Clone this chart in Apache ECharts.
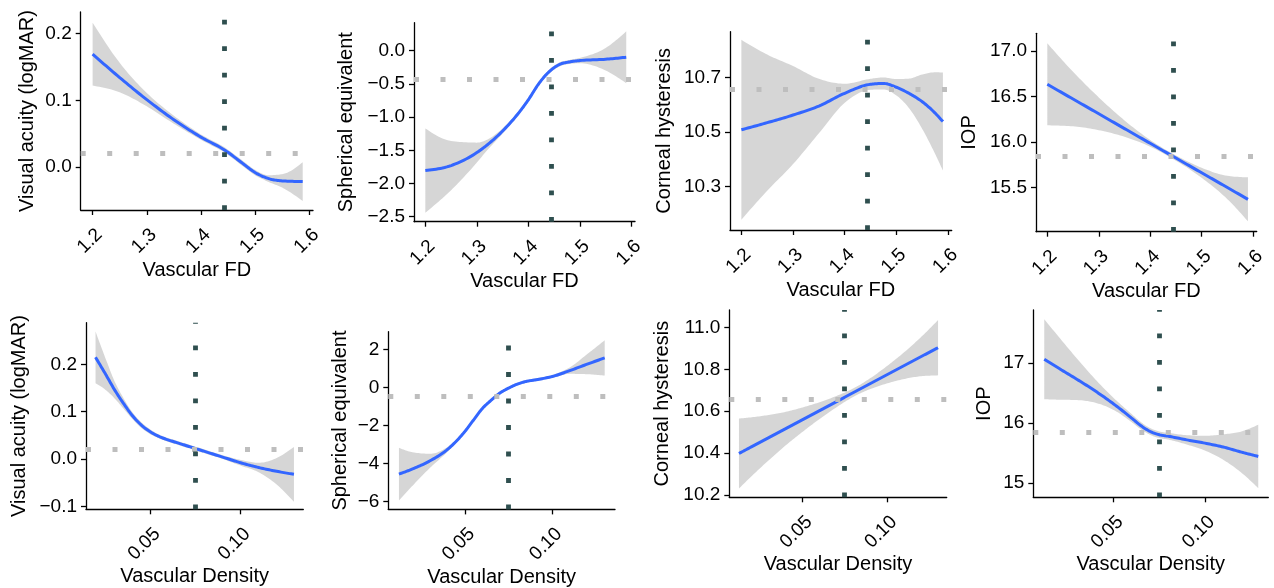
<!DOCTYPE html>
<html>
<head>
<meta charset="utf-8">
<script src="https://cdn.jsdelivr.net/npm/echarts@6/dist/echarts.min.js"></script>
<style>
  html, body { margin: 0; padding: 0; background: #fff; }
  #chart { width: 1274px; height: 588px; }
</style>
</head>
<body>
<div id="chart"></div>
<script>
// ---- Tick values ----
const fdTicks = [1.2, 1.3, 1.4, 1.5, 1.6];
const densityTicks = [0.05, 0.10];
const vaFdTicks = [0.0, 0.1, 0.2];
const seFdTicks = [-2.5, -2.0, -1.5, -1.0, -0.5, 0.0];
const chFdTicks = [10.3, 10.5, 10.7];
const iopFdTicks = [15.5, 16.0, 16.5, 17.0];
const vaDenTicks = [-0.1, 0.0, 0.1, 0.2];
const seDenTicks = [-6, -4, -2, 0, 2];
const chDenTicks = [10.2, 10.4, 10.6, 10.8, 11.0];
const iopDenTicks = [15, 16, 17];

// ---- Reference lines: vascular cut-offs and outcome means ----
const fdCut = 1.444;
const densityCut = 0.0748;
const meanVA = 0.021;
const meanSE = -0.43;
const meanCH = 10.657;
const meanIOP = 15.84;

// ---- Smoothed fits with 95% bands: Vascular FD ----
const vaFdX   = [1.2, 1.25, 1.3, 1.35, 1.4, 1.445, 1.475, 1.5, 1.525, 1.55, 1.588];
const vaFdFit = [0.169, 0.134, 0.101, 0.071, 0.045, 0.025, 0.007, -0.008, -0.017, -0.0205, -0.0215];
const vaFdLo  = [0.122, 0.112, 0.091, 0.065, 0.041, 0.021, 0.003, -0.012, -0.022, -0.0305, -0.0505];
const vaFdHi  = [0.216, 0.156, 0.111, 0.077, 0.049, 0.029, 0.011, -0.004, -0.012, -0.0105, 0.0075];

const seFdX   = [1.2, 1.25, 1.3, 1.32, 1.35, 1.385, 1.4, 1.42, 1.44, 1.46, 1.48, 1.5, 1.55, 1.59];
const seFdFit = [-1.806, -1.73, -1.535, -1.42, -1.21, -0.90, -0.74, -0.50, -0.32, -0.21, -0.17, -0.15, -0.13, -0.10];
const seFdLo  = [-2.441, -2.10, -1.685, -1.50, -1.25, -0.93, -0.77, -0.53, -0.35, -0.24, -0.20, -0.19, -0.30, -0.49];
const seFdHi  = [-1.171, -1.36, -1.385, -1.34, -1.17, -0.87, -0.71, -0.47, -0.29, -0.18, -0.14, -0.11, 0.04, 0.29];

const chFdX   = [1.2, 1.25, 1.3, 1.35, 1.4, 1.45, 1.475, 1.5, 1.525, 1.55, 1.575, 1.59];
const chFdFit = [10.509, 10.535, 10.563, 10.596, 10.643, 10.676, 10.679, 10.665, 10.642, 10.612, 10.570, 10.539];
const chFdLo  = [10.179, 10.285, 10.383, 10.496, 10.608, 10.656, 10.657, 10.635, 10.587, 10.512, 10.42, 10.359];
const chFdHi  = [10.839, 10.785, 10.743, 10.696, 10.678, 10.696, 10.701, 10.695, 10.697, 10.712, 10.72, 10.719];

const iopFdX   = [1.2, 1.25, 1.3, 1.35, 1.4, 1.45, 1.5, 1.55, 1.59];
const iopFdFit = [16.633, 16.471, 16.309, 16.146, 15.984, 15.822, 15.660, 15.498, 15.368];
const iopFdLo  = [16.182, 16.171, 16.129, 16.056, 15.947, 15.793, 15.605, 15.37, 15.126];
const iopFdHi  = [17.084, 16.771, 16.489, 16.236, 16.021, 15.851, 15.715, 15.626, 15.61];

// ---- Smoothed fits with 95% bands: Vascular Density ----
const vaDenX   = [0.0194, 0.025, 0.03, 0.035, 0.04, 0.045, 0.05, 0.055, 0.06, 0.065, 0.07, 0.075, 0.08, 0.09, 0.10, 0.11, 0.12, 0.1296];
const vaDenFit = [0.2148, 0.179, 0.146, 0.117, 0.091, 0.071, 0.057, 0.047, 0.040, 0.034, 0.028, 0.022, 0.016, 0.004, -0.008, -0.018, -0.026, -0.0324];
const vaDenLo  = [0.1603, 0.146, 0.128, 0.106, 0.084, 0.065, 0.052, 0.043, 0.036, 0.030, 0.024, 0.018, 0.012, 0.000, -0.014, -0.028, -0.054, -0.0904];
const vaDenHi  = [0.2693, 0.212, 0.164, 0.128, 0.098, 0.077, 0.062, 0.051, 0.044, 0.038, 0.032, 0.026, 0.020, 0.008, -0.002, -0.008, 0.002, 0.0256];

const seDenX   = [0.0122, 0.02, 0.03, 0.04, 0.045, 0.05, 0.055, 0.06, 0.065, 0.07, 0.075, 0.08, 0.085, 0.09, 0.10, 0.11, 0.12, 0.13];
const seDenFit = [-4.55, -4.28, -3.85, -3.25, -2.82, -2.30, -1.69, -1.09, -0.66, -0.28, -0.02, 0.19, 0.33, 0.41, 0.59, 0.90, 1.24, 1.57];
const seDenLo  = [-5.935, -5.16, -4.22, -3.38, -2.91, -2.38, -1.77, -1.17, -0.735, -0.35, -0.09, 0.12, 0.26, 0.34, 0.51, 0.73, 0.71, 0.64];
const seDenHi  = [-3.165, -3.40, -3.48, -3.12, -2.73, -2.22, -1.61, -1.01, -0.585, -0.21, 0.05, 0.26, 0.40, 0.48, 0.67, 1.07, 1.77, 2.50];

const chDenX   = [0.0124, 0.02, 0.03, 0.04, 0.05, 0.06, 0.07, 0.08, 0.09, 0.10, 0.11, 0.12, 0.1299];
const chDenFit = [10.398, 10.431, 10.474, 10.517, 10.560, 10.603, 10.646, 10.689, 10.732, 10.775, 10.818, 10.861, 10.903];
const chDenLo  = [10.231, 10.291, 10.366, 10.437, 10.502, 10.563, 10.619, 10.669, 10.706, 10.733, 10.754, 10.767, 10.771];
const chDenHi  = [10.565, 10.571, 10.582, 10.597, 10.618, 10.643, 10.673, 10.709, 10.758, 10.817, 10.882, 10.955, 11.035];

const iopDenX   = [0.012, 0.02, 0.03, 0.04, 0.05, 0.06, 0.065, 0.07, 0.075, 0.08, 0.09, 0.10, 0.11, 0.12, 0.1292];
const iopDenFit = [17.067, 16.915, 16.73, 16.535, 16.32, 16.08, 15.955, 15.86, 15.805, 15.78, 15.72, 15.665, 15.60, 15.515, 15.443];
const iopDenLo  = [16.399, 16.391, 16.385, 16.34, 16.22, 16.013, 15.895, 15.804, 15.75, 15.724, 15.642, 15.542, 15.388, 15.17, 14.913];
const iopDenHi  = [17.735, 17.439, 17.075, 16.73, 16.42, 16.147, 16.015, 15.916, 15.86, 15.836, 15.798, 15.788, 15.812, 15.86, 15.973];

// ---- Panel layout ----
const panels = [
  { x: vaFdX, fit: vaFdFit, lo: vaFdLo, hi: vaFdHi, xTicks: fdTicks, xDec: 1, yTicks: vaFdTicks, yDec: 1,
    xName: 'Vascular FD', yName: 'Visual acuity (logMAR)', vline: fdCut, hline: meanVA,
    xr: [1.178, 1.607], yr: [-0.064, 0.232], box: [80.7, 12, 232.3, 198], yGap: 43, xGap: 49 },
  { x: seFdX, fit: seFdFit, lo: seFdLo, hi: seFdHi, xTicks: fdTicks, xDec: 1, yTicks: seFdTicks, yDec: 1,
    xName: 'Vascular FD', yName: 'Spherical equivalent', vline: fdCut, hline: meanSE,
    xr: [1.178, 1.607], yr: [-2.575, 0.42], box: [414, 22.7, 221, 199], yGap: 58, xGap: 47 },
  { x: chFdX, fit: chFdFit, lo: chFdLo, hi: chFdHi, xTicks: fdTicks, xDec: 1, yTicks: chFdTicks, yDec: 1,
    xName: 'Vascular FD', yName: 'Corneal hysteresis', vline: fdCut, hline: meanCH,
    xr: [1.178, 1.607], yr: [10.141, 10.869], box: [730, 31.7, 221.7, 198.3], yGap: 56, xGap: 45 },
  { x: iopFdX, fit: iopFdFit, lo: iopFdLo, hi: iopFdHi, xTicks: fdTicks, xDec: 1, yTicks: iopFdTicks, yDec: 1,
    xName: 'Vascular FD', yName: 'IOP', vline: fdCut, hline: meanIOP,
    xr: [1.178, 1.607], yr: [15.012, 17.194], box: [1036, 33.3, 220.7, 198.4], yGap: 57, xGap: 45 },
  { x: vaDenX, fit: vaDenFit, lo: vaDenLo, hi: vaDenHi, xTicks: densityTicks, xDec: 2, yTicks: vaDenTicks, yDec: 1,
    xName: 'Vascular Density', yName: 'Visual acuity (logMAR)', vline: densityCut, hline: meanVA,
    xr: [0.0141, 0.1348], yr: [-0.1063, 0.288], box: [86, 322.7, 217.3, 186.6], yGap: 57, xGap: 54 },
  { x: seDenX, fit: seDenFit, lo: seDenLo, hi: seDenHi, xTicks: densityTicks, xDec: 2, yTicks: seDenTicks, yDec: 0,
    xName: 'Vascular Density', yName: 'Spherical equivalent', vline: densityCut, hline: meanSE,
    xr: [0.0061, 0.1359], yr: [-6.41, 2.95], box: [388.3, 331.7, 226.7, 180.6], yGap: 38, xGap: 53 },
  { x: chDenX, fit: chDenFit, lo: chDenLo, hi: chDenHi, xTicks: densityTicks, xDec: 2, yTicks: chDenTicks, yDec: 1,
    xName: 'Vascular Density', yName: 'Corneal hysteresis', vline: densityCut, hline: meanCH,
    xr: [0.0067, 0.135], yr: [10.189, 11.083], box: [729.3, 310, 217.4, 187.3], yGap: 57, xGap: 55 },
  { x: iopDenX, fit: iopDenFit, lo: iopDenLo, hi: iopDenHi, xTicks: densityTicks, xDec: 2, yTicks: iopDenTicks, yDec: 0,
    xName: 'Vascular Density', yName: 'IOP', vline: densityCut, hline: meanIOP,
    xr: [0.006, 0.1347], yr: [14.76, 17.89], box: [1033.3, 310, 235, 187.3], yGap: 39, xGap: 53 }
];

const FONT = '"Liberation Sans", Arial, Helvetica, sans-serif';
const axisColor = '#000';

function fmt(dec) {
  return function (v) {
    const s = Math.abs(v).toFixed(dec);
    return (v < -1e-9 ? '\u2212' : '') + s;
  };
}

// Monotone cubic (Steffen) through pixel points, x increasing; returns a dense polyline.
function monotoneCurve(pts, steps) {
  const n = pts.length;
  if (n < 3) return pts.slice();
  const h = [], s = [];
  for (let i = 0; i < n - 1; i++) {
    h[i] = pts[i + 1][0] - pts[i][0];
    s[i] = (pts[i + 1][1] - pts[i][1]) / h[i];
  }
  const m = new Array(n);
  for (let i = 1; i < n - 1; i++) {
    const p = (s[i - 1] * h[i] + s[i] * h[i - 1]) / (h[i - 1] + h[i]);
    m[i] = (Math.sign(s[i - 1]) + Math.sign(s[i])) *
      Math.min(Math.abs(s[i - 1]), Math.abs(s[i]), 0.5 * Math.abs(p)) || 0;
  }
  m[0] = (3 * s[0] - m[1]) / 2;
  m[n - 1] = (3 * s[n - 2] - m[n - 2]) / 2;
  const out = [pts[0]];
  for (let i = 0; i < n - 1; i++) {
    const x0 = pts[i][0], y0 = pts[i][1], y1 = pts[i + 1][1];
    for (let k = 1; k <= steps; k++) {
      const t = k / steps, t2 = t * t, t3 = t2 * t;
      const h00 = 2 * t3 - 3 * t2 + 1, h10 = t3 - 2 * t2 + t;
      const h01 = -2 * t3 + 3 * t2, h11 = t3 - t2;
      out.push([x0 + t * h[i], h00 * y0 + h10 * h[i] * m[i] + h01 * y1 + h11 * h[i] * m[i + 1]]);
    }
  }
  return out;
}

const grids = [], xAxes = [], yAxes = [], series = [];

panels.forEach(function (p, i) {
  grids.push({ left: p.box[0], top: p.box[1], width: p.box[2], height: p.box[3], containLabel: false });

  const lineStyle = { color: axisColor, width: 1.3 };
  xAxes.push({
    gridIndex: i, type: 'value', min: p.xr[0], max: p.xr[1],
    axisLine: { show: true, onZero: false, lineStyle: lineStyle },
    axisTick: { show: true, length: 5, customValues: p.xTicks, lineStyle: lineStyle },
    axisLabel: {
      customValues: p.xTicks, rotate: 45, verticalAlign: 'top', margin: 15,
      fontSize: 19, fontFamily: FONT, color: '#000', formatter: fmt(p.xDec)
    },
    splitLine: { show: false },
    name: p.xName, nameLocation: 'middle', nameGap: p.xGap,
    nameTextStyle: { fontSize: 20, fontFamily: FONT, color: '#000' }
  });
  yAxes.push({
    gridIndex: i, type: 'value', min: p.yr[0], max: p.yr[1],
    axisLine: { show: true, onZero: false, lineStyle: lineStyle },
    axisTick: { show: true, length: 5, customValues: p.yTicks, lineStyle: lineStyle },
    axisLabel: {
      customValues: p.yTicks, margin: 9,
      fontSize: 19, fontFamily: FONT, color: '#000', formatter: fmt(p.yDec)
    },
    splitLine: { show: false },
    name: p.yName, nameLocation: 'middle', nameGap: p.yGap,
    nameTextStyle: { fontSize: 20, fontFamily: FONT, color: '#000' }
  });

  const rows = p.x.map(function (x, k) { return [x, p.fit[k], p.lo[k], p.hi[k]]; });

  // grey confidence band between lower and upper bounds
  series.push({
    type: 'custom', xAxisIndex: i, yAxisIndex: i, data: rows, silent: true, z: 1,
    encode: { x: 0, y: [2, 3] },
    renderItem: function (params, api) {
      if (params.dataIndex !== 0) return null;
      const up = monotoneCurve(rows.map(function (r) { return api.coord([r[0], r[3]]); }), 12);
      const dn = monotoneCurve(rows.map(function (r) { return api.coord([r[0], r[2]]); }), 12);
      return {
        type: 'polygon', silent: true,
        shape: { points: up.concat(dn.reverse()) },
        style: { fill: 'rgba(153,153,153,0.4)', stroke: null }
      };
    }
  });

  // fitted curve, with the outcome mean and vascular cut-off as dotted lines
  series.push({
    type: 'custom', xAxisIndex: i, yAxisIndex: i, data: rows, silent: true, z: 3,
    encode: { x: 0, y: 1 },
    renderItem: function (params, api) {
      if (params.dataIndex !== 0) return null;
      const pts = monotoneCurve(rows.map(function (r) { return api.coord([r[0], r[1]]); }), 12);
      return {
        type: 'polyline', silent: true,
        shape: { points: pts },
        style: { stroke: '#3366FF', lineWidth: 3, fill: null, lineJoin: 'round' }
      };
    },
    markLine: {
      silent: true, symbol: ['none', 'none'], label: { show: false }, animation: false, precision: 6,
      data: [
        { yAxis: p.hline, lineStyle: { color: '#BEBEBE', width: 4.8, type: [5, 21.5], cap: 'butt' } },
        { xAxis: p.vline, lineStyle: { color: '#2F4F4F', width: 4.8, type: [4.8, 21.7], cap: 'butt' } }
      ]
    }
  });
});

const chart = echarts.init(document.getElementById('chart'), null, { renderer: 'canvas' });
chart.setOption({
  animation: false,
  backgroundColor: '#ffffff',
  grid: grids,
  xAxis: xAxes,
  yAxis: yAxes,
  series: series
});
</script>
</body>
</html>
